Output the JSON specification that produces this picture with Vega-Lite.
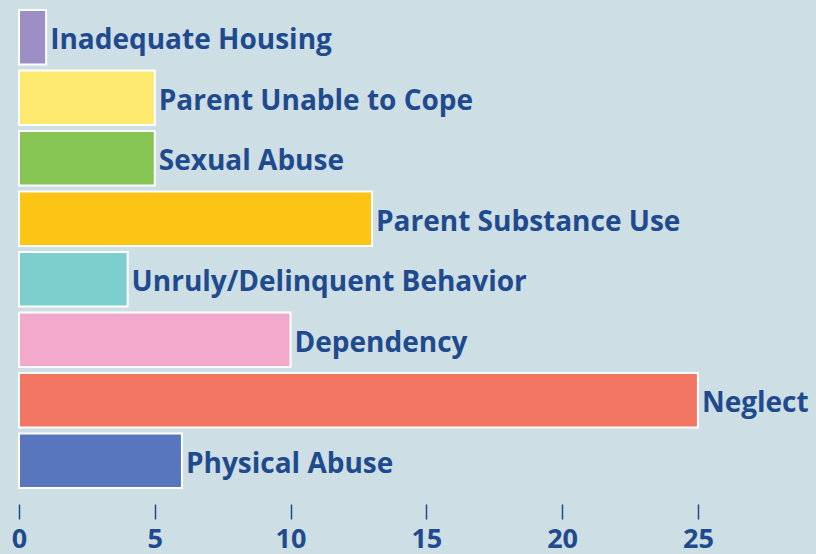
{
  "$schema": "https://vega.github.io/schema/vega-lite/v6.json",
  "autosize": "none",
  "width": 797,
  "height": 484,
  "padding": {"left": 19, "top": 7, "right": 0, "bottom": 63},
  "background": "#cddee5",
  "config": {"view": {"stroke": null}},
  "data": {"values": [
    {"cause": "Inadequate Housing", "value": 1, "color": "#9b8fc5"},
    {"cause": "Parent Unable to Cope", "value": 5, "color": "#fde96f"},
    {"cause": "Sexual Abuse", "value": 5, "color": "#86c553"},
    {"cause": "Parent Substance Use", "value": 13, "color": "#fdc513"},
    {"cause": "Unruly/Delinquent Behavior", "value": 4, "color": "#7dcfcd"},
    {"cause": "Dependency", "value": 10, "color": "#f3a9cc"},
    {"cause": "Neglect", "value": 25, "color": "#f37563"},
    {"cause": "Physical Abuse", "value": 6, "color": "#5876bd"}
  ]},
  "encoding": {
    "y": {"field": "cause", "type": "nominal", "sort": null,
          "scale": {"paddingInner": 0.1, "paddingOuter": 0.05}, "axis": null},
    "x": {"field": "value", "type": "quantitative",
          "scale": {"domain": [0, 29.35], "nice": false, "zero": true}}
  },
  "layer": [
    {
      "mark": {"type": "bar", "stroke": "white", "strokeWidth": 2},
      "encoding": {
        "color": {"field": "color", "type": "nominal", "scale": null},
        "x": {"field": "value", "type": "quantitative",
              "scale": {"domain": [0, 29.35], "nice": false},
              "axis": {"values": [0, 5, 10, 15, 20, 25], "title": null, "grid": false,
                       "domain": false, "offset": 13, "tickSize": 15, "tickWidth": 1.5,
                       "labelFlush": false, "labelOverlap": false,
                       "tickColor": "#1f4b8e", "labelColor": "#1f4b8e", "labelFont": "Open Sans",
                       "labelFontWeight": "bold", "labelFontSize": 27, "labelPadding": 7}}
      }
    },
    {
      "mark": {"type": "text", "align": "left", "baseline": "middle", "dx": 4, "dy": 4,
               "font": "Open Sans", "fontWeight": "bold", "fontSize": 28, "color": "#1f4b8e"},
      "encoding": {"text": {"field": "cause"}}
    }
  ]
}
